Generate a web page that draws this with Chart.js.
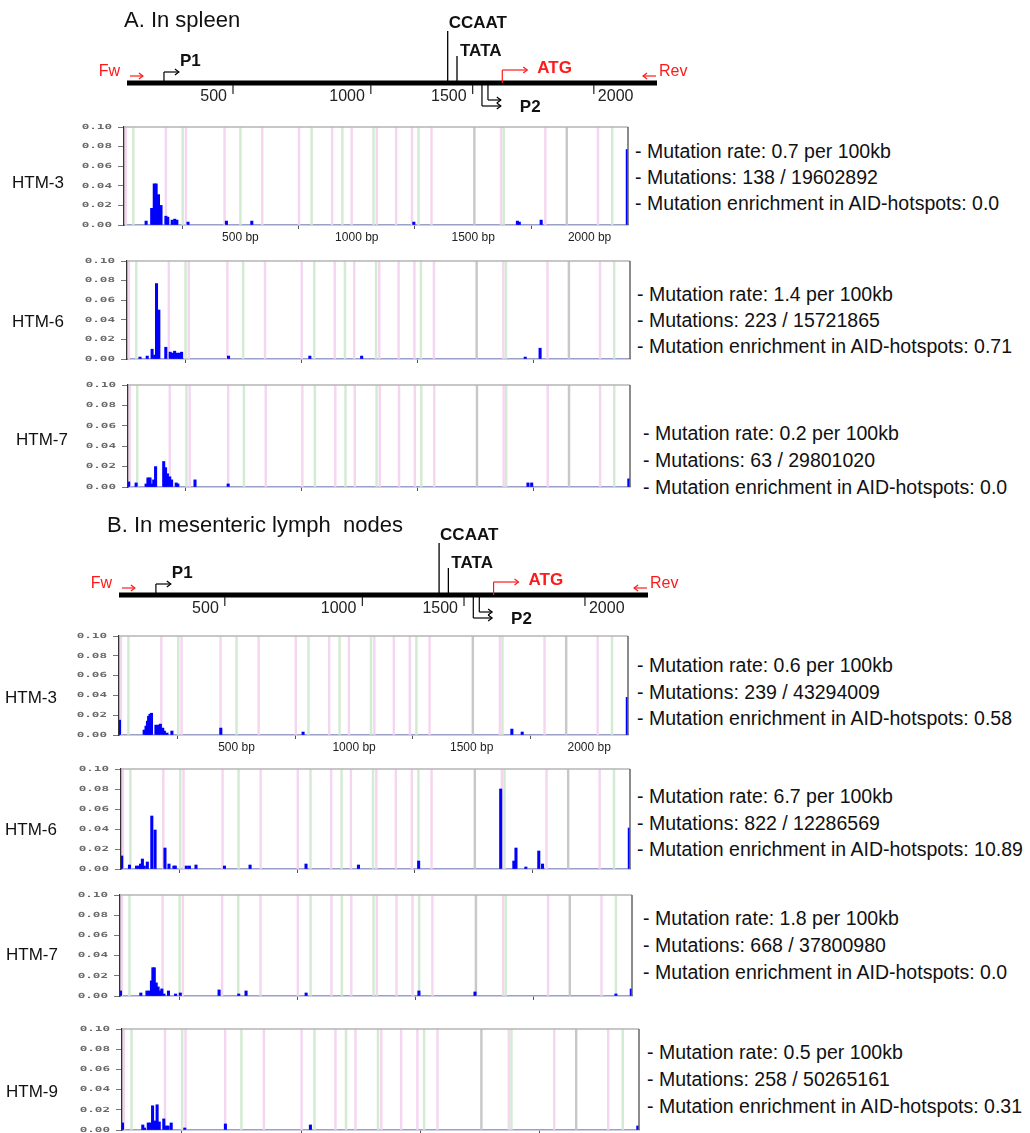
<!DOCTYPE html>
<html><head><meta charset="utf-8">
<script src="https://cdn.jsdelivr.net/npm/chart.js@4.4.1/dist/chart.umd.min.js"></script>
<style>
html,body{margin:0;padding:0;background:#fff;}
body{width:1030px;height:1133px;position:relative;overflow:hidden;font-family:'Liberation Sans',Arial,sans-serif;color:#111;}
canvas{position:absolute;}
.t{position:absolute;white-space:pre;line-height:22px;height:22px;}
</style></head><body>
<script>
// ---------- DATA ----------
const xMaxBp = 2165;
const yMax = 0.1;
const yTickValues = [0, 0.02, 0.04, 0.06, 0.08, 0.10];
const xTickValues = [500, 1000, 1500, 2000];

// hotspot stripes (bp)
const pinkStripes = [8, 180, 266, 432, 594, 752, 894, 978, 1086, 1169, 1237, 1321, 1620, 1810, 2036];
const greenStripes = [40, 252, 500, 806, 938, 1072, 1265, 1631, 2097];
const greyStripes = [1505, 1902];

// A. spleen
const spleenHTM3Pos = [95, 119, 130, 138, 148, 159, 180, 188, 207, 218, 227, 275, 440, 549, 1245, 1690, 1698, 1792, 2162];
const spleenHTM3Val = [0.004, 0.017, 0.042, 0.042, 0.031, 0.020, 0.009, 0.008, 0.005, 0.006, 0.005, 0.003, 0.004, 0.004, 0.003, 0.004, 0.003, 0.005, 0.077];
const spleenHTM6Pos = [56, 87, 108, 119, 127, 137, 167, 186, 196, 205, 216, 226, 235, 437, 787, 1010, 1714, 1778];
const spleenHTM6Val = [0.002, 0.003, 0.010, 0.004, 0.077, 0.050, 0.012, 0.007, 0.006, 0.008, 0.006, 0.006, 0.007, 0.003, 0.003, 0.003, 0.002, 0.011];
const spleenHTM7Pos = [3, 35, 78, 86, 95, 103, 111, 119, 154, 162, 170, 180, 188, 208, 215, 289, 432, 1725, 1741, 2160];
const spleenHTM7Val = [0.005, 0.004, 0.003, 0.009, 0.009, 0.003, 0.007, 0.020, 0.025, 0.019, 0.013, 0.010, 0.007, 0.004, 0.003, 0.007, 0.003, 0.004, 0.004, 0.008];
// B. mesenteric lymph nodes
const mlnHTM3Pos = [2, 107, 115, 121, 126, 132, 138, 157, 167, 176, 186, 193, 204, 225, 433, 783, 1671, 1715, 2162];
const mlnHTM3Val = [0.015, 0.005, 0.009, 0.014, 0.019, 0.021, 0.022, 0.010, 0.010, 0.011, 0.007, 0.004, 0.002, 0.004, 0.007, 0.003, 0.006, 0.003, 0.038];
const mlnHTM6Pos = [3, 36, 66, 76, 83, 91, 99, 112, 131, 145, 187, 204, 225, 231, 278, 291, 319, 440, 549, 787, 1010, 1266, 1615, 1671, 1680, 1722, 1777, 1793, 2162];
const mlnHTM6Val = [0.013, 0.004, 0.003, 0.003, 0.005, 0.010, 0.003, 0.007, 0.053, 0.039, 0.021, 0.005, 0.003, 0.003, 0.003, 0.003, 0.004, 0.003, 0.004, 0.005, 0.004, 0.008, 0.080, 0.008, 0.021, 0.002, 0.018, 0.005, 0.041];
const mlnHTM7Pos = [2, 88, 114, 124, 133, 139, 145, 153, 161, 169, 177, 186, 205, 235, 255, 419, 502, 533, 787, 1264, 1501, 2097, 2162];
const mlnHTM7Val = [0.005, 0.003, 0.005, 0.005, 0.015, 0.028, 0.028, 0.013, 0.009, 0.005, 0.007, 0.002, 0.005, 0.002, 0.003, 0.006, 0.002, 0.005, 0.003, 0.005, 0.004, 0.002, 0.007];
const mlnHTM9Pos = [2, 87, 94, 110, 118, 128, 139, 147, 156, 175, 184, 193, 206, 263, 433, 789, 2160];
const mlnHTM9Val = [0.007, 0.005, 0.002, 0.007, 0.007, 0.024, 0.009, 0.025, 0.008, 0.011, 0.004, 0.004, 0.007, 0.002, 0.006, 0.005, 0.004];

const sampleNames = ['HTM-3', 'HTM-6', 'HTM-7', 'HTM-3', 'HTM-6', 'HTM-7', 'HTM-9'];
const mutationRates = ['0.7', '1.4', '0.2', '0.6', '6.7', '1.8', '0.5'];
const mutationCounts = ['138 / 19602892', '223 / 15721865', '63 / 29801020', '239 / 43294009', '822 / 12286569', '668 / 37800980', '258 / 50265161'];
const enrichments = ['0.0', '0.71', '0.0', '0.58', '10.89', '0.0', '0.31'];

// schematic gene map (schematic bp along the drawn line)
const mapLength = 2165;
const mapTickPos = [433, 996, 1412, 1907];
const mapTickLabels = ['500', '1000', '1500', '2000'];
const ccaatPos = 1310, tataPos = 1348;
const p1Pos = [151, 212];
const p2Pos = [1450, 1527];
const atgPos = [1533, 1635];

// ---------- LAYOUT ----------
const panelLayout = [
  {pos: spleenHTM3Pos, val: spleenHTM3Val, plot: [124, 628, 127, 225], xl: true,  label: [64, 183], text: [635, 151, 26]},
  {pos: spleenHTM6Pos, val: spleenHTM6Val, plot: [127, 630, 261, 359], xl: false, label: [64, 322], text: [637, 294, 26]},
  {pos: spleenHTM7Pos, val: spleenHTM7Val, plot: [128, 630, 385, 487], xl: false, label: [68, 440], text: [643, 433, 27]},
  {pos: mlnHTM3Pos, val: mlnHTM3Val, plot: [119, 628, 636, 735], xl: true,  label: [57, 698], text: [637, 665, 26.5]},
  {pos: mlnHTM6Pos, val: mlnHTM6Val, plot: [121, 630, 769, 869], xl: false, label: [57, 830], text: [637, 796, 26.7]},
  {pos: mlnHTM7Pos, val: mlnHTM7Val, plot: [120, 632, 895, 996], xl: false, label: [58, 955], text: [643, 918, 27]},
  {pos: mlnHTM9Pos, val: mlnHTM9Val, plot: [122, 639, 1029, 1130], xl: false, label: [58, 1092], text: [647, 1052, 27]}
];

function addCanvas(left, top, w, h) {
  const c = document.createElement('canvas');
  c.width = w; c.height = h;
  c.style.left = left + 'px'; c.style.top = top + 'px';
  c.style.width = w + 'px'; c.style.height = h + 'px';
  document.body.appendChild(c);
  return c;
}
function addText(str, x, yc, css, alignRight) {
  const d = document.createElement('div');
  d.className = 't';
  d.textContent = str;
  d.style.cssText += css;
  d.style.top = (yc - 11) + 'px';
  if (alignRight) { d.style.right = (1030 - x) + 'px'; } else { d.style.left = x + 'px'; }
  document.body.appendChild(d);
  return d;
}

const stripeData = [];
const stripeColors = [];
pinkStripes.forEach(x => { stripeData.push({x: x, y: yMax}); stripeColors.push('#f5d6f1'); });
greenStripes.forEach(x => { stripeData.push({x: x, y: yMax}); stripeColors.push('#d3ebd3'); });
greyStripes.forEach(x => { stripeData.push({x: x, y: yMax}); stripeColors.push('#c8c8c8'); });

const yLabelPlugin = {
  id: 'ylab',
  afterDraw(chart) {
    const ys = chart.scales.y, ctx = chart.ctx;
    ctx.save();
    ctx.font = 'bold 7px "DejaVu Sans Mono"';
    ctx.fillStyle = '#6a6a6a';
    ctx.textBaseline = 'middle';
    ctx.textAlign = 'right';
    yTickValues.forEach(v => {
      const y = ys.getPixelForValue(v);
      ctx.save();
      ctx.translate(ys.right - 12, y);
      ctx.scale(1.8, 1);
      ctx.fillText(v.toFixed(2), 0, 0);
      ctx.restore();
    });
    ctx.restore();
  }
};
const framePlugin = {
  id: 'frame',
  afterDatasetsDraw(chart) {
    const a = chart.chartArea, ctx = chart.ctx;
    ctx.save();
    ctx.lineWidth = 1.5;
    ctx.strokeStyle = '#b4b4b4';
    ctx.beginPath(); ctx.moveTo(a.left, a.top); ctx.lineTo(a.right, a.top); ctx.stroke();
    ctx.strokeStyle = '#666';
    ctx.beginPath(); ctx.moveTo(a.right, a.top); ctx.lineTo(a.right, a.bottom); ctx.stroke();
    ctx.restore();
  }
};

function barChart(cfg) {
  const CL = 50;
  const pl = cfg.plot[0], pr = cfg.plot[1], pt = cfg.plot[2], pb = cfg.plot[3];
  const top = pt - 8;
  const W = pr - CL + 4;
  const xAxisH = 22;
  const H = pb - top + xAxisH;
  const c = addCanvas(CL, top, W, H);
  new Chart(c, {
    type: 'bar',
    data: {datasets: [
      {data: cfg.pos.map((p, i) => ({x: p, y: cfg.val[i]})), backgroundColor: '#0000ff', barThickness: 2.4, grouped: false, order: 0},
      {data: stripeData, backgroundColor: stripeColors, barThickness: 1.8, grouped: false, order: 1}
    ]},
    options: {
      responsive: false, animation: false, devicePixelRatio: 1,
      layout: {padding: {top: pt - top, right: W - (pr - CL), left: 0, bottom: 0}},
      plugins: {legend: {display: false}, tooltip: {enabled: false}},
      scales: {
        x: {type: 'linear', min: 0, max: xMaxBp, offset: false,
            afterBuildTicks: s => { s.ticks = xTickValues.map(v => ({value: v})); },
            afterFit: s => { s.height = xAxisH; },
            ticks: {autoSkip: false, maxRotation: 0, padding: 1, font: {size: 12, family: 'Liberation Sans'}, color: '#222',
                    callback: v => cfg.xl ? v + ' bp' : ''},
            grid: {drawOnChartArea: false, drawTicks: true, tickLength: 4, color: '#555'},
            border: {color: '#9aa0c8', width: 1.5}},
        y: {type: 'linear', min: 0, max: yMax,
            afterBuildTicks: s => { s.ticks = yTickValues.map(v => ({value: v})); },
            afterFit: s => { s.width = pl - CL; },
            ticks: {display: false},
            grid: {drawOnChartArea: false, drawTicks: true, tickLength: 6, color: '#777'},
            border: {color: '#333', width: 1.5}}
      }
    },
    plugins: [yLabelPlugin, framePlugin]
  });
}

// ---------- gene map ----------
function mapPlugin() {
  return {
    id: 'genemap',
    afterDatasetsDraw(chart) {
      const ctx = chart.ctx, xs = chart.scales.x;
      const y0 = chart.scales.y.getPixelForValue(0);
      const X = v => xs.getPixelForValue(v);
      const red = '#ff1a1a';
      const seg = (x1, y1, x2, y2, col, w) => { ctx.strokeStyle = col; ctx.lineWidth = w; ctx.beginPath(); ctx.moveTo(x1, y1); ctx.lineTo(x2, y2); ctx.stroke(); };
      const head = (x, y, dir, col) => { ctx.strokeStyle = col; ctx.lineWidth = 1.2; ctx.beginPath(); ctx.moveTo(x - 4 * dir, y - 3); ctx.lineTo(x, y); ctx.lineTo(x - 4 * dir, y + 3); ctx.stroke(); };
      const txt = (s, x, y, font, col, align) => { ctx.font = font; ctx.fillStyle = col; ctx.textAlign = align; ctx.textBaseline = 'middle'; ctx.fillText(s, x, y); };
      ctx.save();
      const bold = 'bold 17px "Liberation Sans"';
      // CCAAT and TATA
      seg(X(ccaatPos), y0 - 52, X(ccaatPos), y0, '#000', 1.3);
      txt('CCAAT', X(ccaatPos) + 1, y0 - 60, bold, '#111', 'left');
      seg(X(tataPos), y0 - 27, X(tataPos), y0, '#000', 1.3);
      txt('TATA', X(tataPos) + 3, y0 - 32, bold, '#111', 'left');
      // P1
      seg(X(p1Pos[0]), y0, X(p1Pos[0]), y0 - 11, '#000', 1.2);
      seg(X(p1Pos[0]), y0 - 11, X(p1Pos[1]), y0 - 11, '#000', 1.2);
      head(X(p1Pos[1]), y0 - 11, 1, '#000');
      txt('P1', X(p1Pos[1]) + 1, y0 - 22, bold, '#111', 'left');
      // ATG
      seg(X(atgPos[0]), y0, X(atgPos[0]), y0 - 13, red, 1.2);
      seg(X(atgPos[0]), y0 - 13, X(atgPos[1]), y0 - 13, red, 1.2);
      head(X(atgPos[1]), y0 - 13, 1, red);
      txt('ATG', X(atgPos[1]) + 10, y0 - 15, bold, red, 'left');
      // P2 (double elbow)
      seg(X(p2Pos[0]), y0, X(p2Pos[0]), y0 + 23, '#000', 1.2);
      seg(X(p2Pos[0]), y0 + 23, X(p2Pos[1]), y0 + 23, '#000', 1.2);
      head(X(p2Pos[1]), y0 + 23, 1, '#000');
      seg(X(p2Pos[0]) + 6, y0, X(p2Pos[0]) + 6, y0 + 17, '#000', 1.2);
      seg(X(p2Pos[0]) + 6, y0 + 17, X(p2Pos[1]), y0 + 17, '#000', 1.2);
      head(X(p2Pos[1]), y0 + 17, 1, '#000');
      txt('P2', X(p2Pos[1]) + 19, y0 + 24, bold, '#111', 'left');
      // Fw / Rev primers
      txt('Fw', X(0) - 7, y0 - 11, '16px "Liberation Sans"', red, 'right');
      seg(X(12), y0 - 7, X(65), y0 - 7, red, 1.2);
      head(X(65), y0 - 7, 1, red);
      seg(X(mapLength - 4), y0 - 7, X(mapLength - 57), y0 - 7, red, 1.2);
      head(X(mapLength - 57), y0 - 7, -1, red);
      txt('Rev', X(mapLength) + 2, y0 - 11, '16px "Liberation Sans"', red, 'left');
      // ticks
      mapTickPos.forEach((p, i) => {
        seg(X(p), y0 + 2, X(p), y0 + 11, '#222', 1.2);
        if (i < 3) txt(mapTickLabels[i], X(p) - 6, y0 + 14, '16px "Liberation Sans"', '#222', 'right');
        else txt(mapTickLabels[i], X(p) + 4, y0 + 14, '16px "Liberation Sans"', '#222', 'left');
      });
      ctx.restore();
    }
  };
}
function geneMap(lineLeft, lineRight, lineY) {
  const H = 120, top = lineY - 78;
  const c = addCanvas(0, top, 1030, H);
  new Chart(c, {
    type: 'scatter',
    data: {datasets: [{data: [{x: 0, y: 0}, {x: mapLength, y: 0}], showLine: true, borderColor: '#000', borderWidth: 5, pointRadius: 0, borderCapStyle: 'butt'}]},
    options: {
      responsive: false, animation: false, devicePixelRatio: 1,
      layout: {padding: {left: lineLeft, right: 1030 - lineRight, top: 58, bottom: 22}},
      plugins: {legend: {display: false}, tooltip: {enabled: false}},
      scales: {x: {type: 'linear', min: 0, max: mapLength, display: false}, y: {type: 'linear', min: -1, max: 1, display: false}}
    },
    plugins: [mapPlugin()]
  });
}

// ---------- BUILD ----------
geneMap(127, 657, 83);
geneMap(119, 648, 595);
addText('A. In spleen', 124, 20, 'font-size:22px;');
addText('B. In mesenteric lymph  nodes', 107, 525, 'font-size:22px;');

panelLayout.forEach((cfg, i) => {
  barChart(cfg);
  addText(sampleNames[i], cfg.label[0], cfg.label[1], 'font-size:17px;', true);
  const tx = cfg.text[0], ty = cfg.text[1], dy = cfg.text[2];
  const css = 'font-size:19.5px;';
  addText('- Mutation rate: ' + mutationRates[i] + ' per 100kb', tx, ty, css);
  addText('- Mutations: ' + mutationCounts[i], tx, ty + dy, css);
  addText('- Mutation enrichment in AID-hotspots: ' + enrichments[i], tx, ty + 2 * dy, css);
});
</script>
</body></html>
